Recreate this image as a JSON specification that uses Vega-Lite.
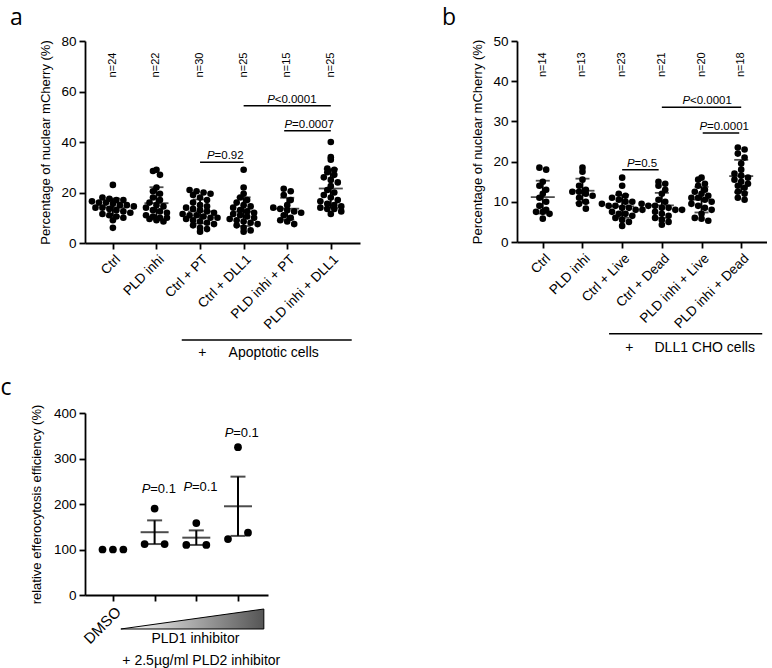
{
 "$schema": "https://vega.github.io/schema/vega-lite/v6.json",
 "padding": {"left": 0, "top": 7, "right": 0, "bottom": 0},
 "config": {
  "font": "Liberation Sans",
  "view": {"stroke": null},
  "axis": {"grid": false, "domainColor": "black", "domainWidth": 1.8, "tickColor": "black", "tickWidth": 1.8, "tickSize": 6, "labelColor": "black", "labelFontSize": 13.5, "labelPadding": 3, "labelOverlap": false, "labelBound": false, "titleFontSize": 13, "titleFontWeight": "normal", "titleColor": "black", "titlePadding": 8},
  "title": {"font": "Open Sans", "fontSize": 23, "fontWeight": "normal", "anchor": "start", "color": "black"}
 },
 "datasets": {
  "a": [
   {"i":0,"v":23},{"i":0,"v":18},{"i":0,"v":17.5},{"i":0,"v":17},{"i":0,"v":17},{"i":0,"v":16.5},{"i":0,"v":16},{"i":0,"v":16},{"i":0,"v":15.5},{"i":0,"v":15},{"i":0,"v":15},{"i":0,"v":14.5},{"i":0,"v":14},{"i":0,"v":14},{"i":0,"v":13.5},{"i":0,"v":13},{"i":0,"v":12.5},{"i":0,"v":12},{"i":0,"v":11.5},{"i":0,"v":11},{"i":0,"v":10.5},{"i":0,"v":10},{"i":0,"v":9},{"i":0,"v":6},
   {"i":1,"v":29},{"i":1,"v":28.5},{"i":1,"v":27},{"i":1,"v":22},{"i":1,"v":20.5},{"i":1,"v":19.5},{"i":1,"v":18},{"i":1,"v":17},{"i":1,"v":16},{"i":1,"v":15},{"i":1,"v":14.5},{"i":1,"v":14},{"i":1,"v":13},{"i":1,"v":12.5},{"i":1,"v":12},{"i":1,"v":11},{"i":1,"v":10.5},{"i":1,"v":10},{"i":1,"v":10},{"i":1,"v":9.5},{"i":1,"v":9},{"i":1,"v":8.5},
   {"i":2,"v":21},{"i":2,"v":20.5},{"i":2,"v":20},{"i":2,"v":19.5},{"i":2,"v":19},{"i":2,"v":18},{"i":2,"v":17},{"i":2,"v":16},{"i":2,"v":15},{"i":2,"v":14.5},{"i":2,"v":14},{"i":2,"v":13.5},{"i":2,"v":13},{"i":2,"v":12.5},{"i":2,"v":12},{"i":2,"v":11.5},{"i":2,"v":11},{"i":2,"v":11},{"i":2,"v":10.5},{"i":2,"v":10},{"i":2,"v":10},{"i":2,"v":9.5},{"i":2,"v":9},{"i":2,"v":8.5},{"i":2,"v":8},{"i":2,"v":7.5},{"i":2,"v":7},{"i":2,"v":6},{"i":2,"v":5.5},{"i":2,"v":4.5},
   {"i":3,"v":29},{"i":3,"v":22},{"i":3,"v":19.5},{"i":3,"v":18},{"i":3,"v":17},{"i":3,"v":16},{"i":3,"v":15},{"i":3,"v":14.5},{"i":3,"v":14},{"i":3,"v":13},{"i":3,"v":12.5},{"i":3,"v":12},{"i":3,"v":11.5},{"i":3,"v":11},{"i":3,"v":10.5},{"i":3,"v":10},{"i":3,"v":9.5},{"i":3,"v":9},{"i":3,"v":8.5},{"i":3,"v":8},{"i":3,"v":7.5},{"i":3,"v":7},{"i":3,"v":6},{"i":3,"v":5},{"i":3,"v":4.5},
   {"i":4,"v":21.5},{"i":4,"v":20.5},{"i":4,"v":19},{"i":4,"v":17},{"i":4,"v":15},{"i":4,"v":14},{"i":4,"v":13.5},{"i":4,"v":13},{"i":4,"v":12.5},{"i":4,"v":12},{"i":4,"v":11},{"i":4,"v":10},{"i":4,"v":9},{"i":4,"v":8.5},{"i":4,"v":7.5},
   {"i":5,"v":40},{"i":5,"v":34},{"i":5,"v":33},{"i":5,"v":29.5},{"i":5,"v":29},{"i":5,"v":28},{"i":5,"v":27},{"i":5,"v":26},{"i":5,"v":25},{"i":5,"v":24},{"i":5,"v":22.5},{"i":5,"v":21},{"i":5,"v":20},{"i":5,"v":19},{"i":5,"v":18},{"i":5,"v":17},{"i":5,"v":16.5},{"i":5,"v":15.5},{"i":5,"v":15},{"i":5,"v":14.5},{"i":5,"v":14},{"i":5,"v":13.5},{"i":5,"v":13.5},{"i":5,"v":12.5},{"i":5,"v":11.5}
  ],
  "b": [
   {"i":0,"v":18.5},{"i":0,"v":18},{"i":0,"v":15},{"i":0,"v":14},{"i":0,"v":13},{"i":0,"v":12},{"i":0,"v":11},{"i":0,"v":10},{"i":0,"v":9},{"i":0,"v":8},{"i":0,"v":7.5},{"i":0,"v":7.5},{"i":0,"v":7},{"i":0,"v":5.8},
   {"i":1,"v":18.5},{"i":1,"v":17.5},{"i":1,"v":15.5},{"i":1,"v":14},{"i":1,"v":13},{"i":1,"v":12.5},{"i":1,"v":12.5},{"i":1,"v":12},{"i":1,"v":11.5},{"i":1,"v":11},{"i":1,"v":10},{"i":1,"v":9.5},{"i":1,"v":8.3},
   {"i":2,"v":16},{"i":2,"v":14},{"i":2,"v":12},{"i":2,"v":11.5},{"i":2,"v":11},{"i":2,"v":10.5},{"i":2,"v":10},{"i":2,"v":10},{"i":2,"v":9.5},{"i":2,"v":9},{"i":2,"v":9},{"i":2,"v":8.5},{"i":2,"v":8.5},{"i":2,"v":8},{"i":2,"v":8},{"i":2,"v":7.5},{"i":2,"v":7},{"i":2,"v":7},{"i":2,"v":6.5},{"i":2,"v":6},{"i":2,"v":5.5},{"i":2,"v":5},{"i":2,"v":4},
   {"i":3,"v":15},{"i":3,"v":14.5},{"i":3,"v":14},{"i":3,"v":13},{"i":3,"v":12},{"i":3,"v":10.5},{"i":3,"v":10},{"i":3,"v":9.5},{"i":3,"v":9},{"i":3,"v":9},{"i":3,"v":8.5},{"i":3,"v":8.5},{"i":3,"v":8},{"i":3,"v":8},{"i":3,"v":7.5},{"i":3,"v":7},{"i":3,"v":6.5},{"i":3,"v":6},{"i":3,"v":5.5},{"i":3,"v":5},{"i":3,"v":4.3},
   {"i":4,"v":16},{"i":4,"v":15.5},{"i":4,"v":14.5},{"i":4,"v":14},{"i":4,"v":13},{"i":4,"v":12.5},{"i":4,"v":12},{"i":4,"v":11.5},{"i":4,"v":11},{"i":4,"v":11},{"i":4,"v":10.5},{"i":4,"v":10},{"i":4,"v":9.5},{"i":4,"v":9},{"i":4,"v":8.5},{"i":4,"v":8},{"i":4,"v":7},{"i":4,"v":6},{"i":4,"v":5.8},{"i":4,"v":5.3},
   {"i":5,"v":23.5},{"i":5,"v":23},{"i":5,"v":22},{"i":5,"v":21},{"i":5,"v":19.5},{"i":5,"v":18},{"i":5,"v":17},{"i":5,"v":16.5},{"i":5,"v":16},{"i":5,"v":15.5},{"i":5,"v":15},{"i":5,"v":14.5},{"i":5,"v":14},{"i":5,"v":13.5},{"i":5,"v":12.5},{"i":5,"v":12},{"i":5,"v":11},{"i":5,"v":10.5}
  ],
  "c": [
   {"i":0,"v":100},{"i":0,"v":100},{"i":0,"v":100},
   {"i":1,"v":190},{"i":1,"v":112},{"i":1,"v":112},
   {"i":2,"v":158},{"i":2,"v":110},{"i":2,"v":110},
   {"i":3,"v":325},{"i":3,"v":123},{"i":3,"v":137}
  ],
  "sigA": [
   {"x1":3,"x2":5,"y":54.4,"tx":3.54,"r":"<0.0001"},
   {"x1":3.93,"x2":5,"y":44.5,"tx":3.94,"r":"\u00a0=0.0007"},
   {"x1":2,"x2":3,"y":32,"tx":2.16,"r":"=0.92"}
  ],
  "sigB": [
   {"x1":3,"x2":5,"y":33.5,"tx":3.52,"r":"<0.0001"},
   {"x1":4.03,"x2":4.95,"y":27.1,"tx":3.95,"r":"\u00a0=0.0001"},
   {"x1":2,"x2":2.92,"y":18,"tx":2.12,"r":"=0.5"}
  ],
  "sigC": [
   {"tx":0.69,"y":233,"r":"=0.1"},
   {"tx":1.69,"y":237,"r":"=0.1"},
   {"tx":2.68,"y":356,"r":"=0.1"}
  ],
  "brA": [{"x1":1.58,"x2":5.48,"y":-38.4}],
  "brAt": [{"x":2.05,"y":-43.7,"t":"+"},{"x":3.69,"y":-43.7,"t":"Apoptotic cells"}],
  "brB": [{"x1":1.67,"x2":5.53,"y":-22.8}],
  "brBt": [{"x":2.18,"y":-26.4,"t":"+"},{"x":4.08,"y":-26.4,"t":"DLL1 CHO cells"}],
  "tri": [{"x":0.19,"yb":-74.7,"yt":-74.7},{"x":3.62,"yb":-74.7,"yt":-30.8}],
  "triT": [{"x":1.98,"y":-96.7,"t":"PLD1 inhibitor"},{"x":2.12,"y":-144,"t":"+ 2.5µg/ml PLD2 inhibitor"}]
 },
 "spacing": 16,
 "vconcat": [
  {
   "spacing": 81,
   "hconcat": [
    {
     "title": {"text": "a", "dx": -30, "offset": 4},
     "width": 275, "height": 202,
     "layer": [
      {
       "data": {"name": "a"},
       "transform": [
        {"calculate": "floor(datum.v / 2.4)", "as": "bin"},
        {"window": [{"op": "row_number", "as": "r"}, {"op": "count", "as": "c"}], "groupby": ["i", "bin"], "frame": [null, null]},
        {"calculate": "datum.i + (datum.r - (datum.c + 1) / 2) * 0.16", "as": "xp"}
       ],
       "mark": {"type": "circle", "size": 44, "opacity": 1, "color": "black"},
       "encoding": {
        "x": {"field": "xp", "type": "quantitative", "title": null, "scale": {"domain": [-0.64, 5.67], "nice": false, "zero": false}, "axis": {"values": [0,1,2,3,4,5], "labelAngle": -45, "labelExpr": "['Ctrl','PLD inhi','Ctrl + PT','Ctrl + DLL1','PLD inhi + PT','PLD inhi + DLL1'][datum.value]"}},
        "y": {"field": "v", "type": "quantitative", "title": "Percentage of nuclear mCherry (%)", "scale": {"domain": [0, 80], "nice": false}, "axis": {"values": [0,20,40,60,80]}}
       }
      },
      {
       "data": {"name": "a"},
       "transform": [
        {"aggregate": [{"op": "mean", "field": "v", "as": "m"}, {"op": "stdev", "field": "v", "as": "s"}], "groupby": ["i"]},
        {"calculate": "datum.m - datum.s", "as": "lo"},
        {"calculate": "datum.m + datum.s", "as": "hi"}
       ],
       "layer": [
        {"mark": {"type": "rule", "strokeWidth": 1.8, "color": "black"}, "encoding": {"x": {"field": "i", "type": "quantitative", "title": null}, "y": {"field": "lo", "type": "quantitative", "title": "Percentage of nuclear mCherry (%)"}, "y2": {"field": "hi"}}},
        {"mark": {"type": "tick", "orient": "horizontal", "size": 24, "thickness": 1.8, "color": "black"}, "encoding": {"x": {"field": "i", "type": "quantitative", "title": null}, "y": {"field": "m", "type": "quantitative", "title": "Percentage of nuclear mCherry (%)"}}},
        {"transform": [{"fold": ["lo", "hi"], "as": ["k", "yv"]}], "mark": {"type": "tick", "orient": "horizontal", "size": 14, "thickness": 1.8, "color": "black"}, "encoding": {"x": {"field": "i", "type": "quantitative", "title": null}, "y": {"field": "yv", "type": "quantitative", "title": "Percentage of nuclear mCherry (%)"}}}
       ]
      },
      {
       "data": {"name": "a"},
       "transform": [{"aggregate": [{"op": "count", "as": "n"}], "groupby": ["i"]}, {"calculate": "'n=' + datum.n", "as": "lab"}],
       "mark": {"type": "text", "angle": 270, "fontSize": 11, "align": "center", "baseline": "middle", "color": "black"},
       "encoding": {"x": {"field": "i", "type": "quantitative", "title": null}, "y": {"datum": 70.5, "type": "quantitative", "title": "Percentage of nuclear mCherry (%)"}, "text": {"field": "lab"}}
      },
      {
       "data": {"name": "sigA"},
       "layer": [
        {"mark": {"type": "rule", "strokeWidth": 1.5, "color": "black"}, "encoding": {"x": {"field": "x1", "type": "quantitative", "title": null}, "x2": {"field": "x2"}, "y": {"field": "y", "type": "quantitative", "title": "Percentage of nuclear mCherry (%)"}}},
        {"mark": {"type": "text", "text": "P", "fontStyle": "italic", "fontSize": 11.5, "align": "left", "baseline": "alphabetic", "dy": -3, "color": "black"}, "encoding": {"x": {"field": "tx", "type": "quantitative", "title": null}, "y": {"field": "y", "type": "quantitative", "title": "Percentage of nuclear mCherry (%)"}}},
        {"mark": {"type": "text", "fontSize": 11.5, "align": "left", "baseline": "alphabetic", "dy": -3, "dx": 7.5, "color": "black"}, "encoding": {"x": {"field": "tx", "type": "quantitative", "title": null}, "y": {"field": "y", "type": "quantitative", "title": "Percentage of nuclear mCherry (%)"}, "text": {"field": "r"}}}
       ]
      },
      {
       "data": {"name": "brA"},
       "mark": {"type": "rule", "strokeWidth": 1.5, "color": "black", "clip": false},
       "encoding": {"x": {"field": "x1", "type": "quantitative", "title": null}, "x2": {"field": "x2"}, "y": {"field": "y", "type": "quantitative", "title": "Percentage of nuclear mCherry (%)"}}
      },
      {
       "data": {"name": "brAt"},
       "mark": {"type": "text", "fontSize": 14, "align": "center", "baseline": "middle", "color": "black", "clip": false},
       "encoding": {"x": {"field": "x", "type": "quantitative", "title": null}, "y": {"field": "y", "type": "quantitative", "title": "Percentage of nuclear mCherry (%)"}, "text": {"field": "t"}}
      }
     ]
    },
    {
     "title": {"text": "b", "dx": -30, "offset": 4},
     "width": 250, "height": 201,
     "layer": [
      {
       "data": {"name": "b"},
       "transform": [
        {"calculate": "floor(datum.v / 1.6)", "as": "bin"},
        {"window": [{"op": "row_number", "as": "r"}, {"op": "count", "as": "c"}], "groupby": ["i", "bin"], "frame": [null, null]},
        {"calculate": "datum.i + (datum.r - (datum.c + 1) / 2) * 0.17", "as": "xp"}
       ],
       "mark": {"type": "circle", "size": 44, "opacity": 1, "color": "black"},
       "encoding": {
        "x": {"field": "xp", "type": "quantitative", "title": null, "scale": {"domain": [-0.65, 5.65], "nice": false, "zero": false}, "axis": {"values": [0,1,2,3,4,5], "labelAngle": -45, "labelExpr": "['Ctrl','PLD inhi','Ctrl + Live','Ctrl + Dead','PLD inhi + Live','PLD inhi + Dead'][datum.value]"}},
        "y": {"field": "v", "type": "quantitative", "title": "Percentage of nuclear mCherry (%)", "scale": {"domain": [0, 50], "nice": false}, "axis": {"values": [0,10,20,30,40,50]}}
       }
      },
      {
       "data": {"name": "b"},
       "transform": [
        {"aggregate": [{"op": "mean", "field": "v", "as": "m"}, {"op": "stdev", "field": "v", "as": "s"}], "groupby": ["i"]},
        {"calculate": "datum.m - datum.s", "as": "lo"},
        {"calculate": "datum.m + datum.s", "as": "hi"}
       ],
       "layer": [
        {"mark": {"type": "rule", "strokeWidth": 1.8, "color": "black"}, "encoding": {"x": {"field": "i", "type": "quantitative", "title": null}, "y": {"field": "lo", "type": "quantitative", "title": "Percentage of nuclear mCherry (%)"}, "y2": {"field": "hi"}}},
        {"mark": {"type": "tick", "orient": "horizontal", "size": 24, "thickness": 1.8, "color": "black"}, "encoding": {"x": {"field": "i", "type": "quantitative", "title": null}, "y": {"field": "m", "type": "quantitative", "title": "Percentage of nuclear mCherry (%)"}}},
        {"transform": [{"fold": ["lo", "hi"], "as": ["k", "yv"]}], "mark": {"type": "tick", "orient": "horizontal", "size": 14, "thickness": 1.8, "color": "black"}, "encoding": {"x": {"field": "i", "type": "quantitative", "title": null}, "y": {"field": "yv", "type": "quantitative", "title": "Percentage of nuclear mCherry (%)"}}}
       ]
      },
      {
       "data": {"name": "b"},
       "transform": [{"aggregate": [{"op": "count", "as": "n"}], "groupby": ["i"]}, {"calculate": "'n=' + datum.n", "as": "lab"}],
       "mark": {"type": "text", "angle": 270, "fontSize": 11, "align": "center", "baseline": "middle", "color": "black"},
       "encoding": {"x": {"field": "i", "type": "quantitative", "title": null}, "y": {"datum": 44.1, "type": "quantitative", "title": "Percentage of nuclear mCherry (%)"}, "text": {"field": "lab"}}
      },
      {
       "data": {"name": "sigB"},
       "layer": [
        {"mark": {"type": "rule", "strokeWidth": 1.5, "color": "black"}, "encoding": {"x": {"field": "x1", "type": "quantitative", "title": null}, "x2": {"field": "x2"}, "y": {"field": "y", "type": "quantitative", "title": "Percentage of nuclear mCherry (%)"}}},
        {"mark": {"type": "text", "text": "P", "fontStyle": "italic", "fontSize": 11.5, "align": "left", "baseline": "alphabetic", "dy": -3, "color": "black"}, "encoding": {"x": {"field": "tx", "type": "quantitative", "title": null}, "y": {"field": "y", "type": "quantitative", "title": "Percentage of nuclear mCherry (%)"}}},
        {"mark": {"type": "text", "fontSize": 11.5, "align": "left", "baseline": "alphabetic", "dy": -3, "dx": 7.5, "color": "black"}, "encoding": {"x": {"field": "tx", "type": "quantitative", "title": null}, "y": {"field": "y", "type": "quantitative", "title": "Percentage of nuclear mCherry (%)"}, "text": {"field": "r"}}}
       ]
      },
      {
       "data": {"name": "brB"},
       "mark": {"type": "rule", "strokeWidth": 1.5, "color": "black", "clip": false},
       "encoding": {"x": {"field": "x1", "type": "quantitative", "title": null}, "x2": {"field": "x2"}, "y": {"field": "y", "type": "quantitative", "title": "Percentage of nuclear mCherry (%)"}}
      },
      {
       "data": {"name": "brBt"},
       "mark": {"type": "text", "fontSize": 14, "align": "center", "baseline": "middle", "color": "black", "clip": false},
       "encoding": {"x": {"field": "x", "type": "quantitative", "title": null}, "y": {"field": "y", "type": "quantitative", "title": "Percentage of nuclear mCherry (%)"}, "text": {"field": "t"}}
      }
     ]
    }
   ]
  },
  {
   "title": {"text": "c", "dx": -30, "offset": 4},
   "width": 183, "height": 182,
   "layer": [
    {
     "data": {"name": "c"},
     "transform": [
      {"calculate": "floor(datum.v / 20)", "as": "bin"},
      {"window": [{"op": "row_number", "as": "r"}, {"op": "count", "as": "c"}], "groupby": ["i", "bin"], "frame": [null, null]},
      {"calculate": "datum.i + (datum.r - (datum.c + 1) / 2) * (datum.c == 2 ? 0.48 : 0.25)", "as": "xp"}
     ],
     "mark": {"type": "circle", "size": 60, "opacity": 1, "color": "black"},
     "encoding": {
      "x": {"field": "xp", "type": "quantitative", "title": null, "scale": {"domain": [-0.67, 3.72], "nice": false, "zero": false}, "axis": {"values": [0,1,2,3], "labelAngle": -45, "labelFontSize": 15, "labelExpr": "datum.value == 0 ? 'DMSO' : ''"}},
      "y": {"field": "v", "type": "quantitative", "title": "relative efferocytosis efficiency (%)", "scale": {"domain": [0, 400], "nice": false}, "axis": {"values": [0,100,200,300,400], "titlePadding": 10}}
     }
    },
    {
     "data": {"name": "c"},
     "transform": [
      {"aggregate": [{"op": "mean", "field": "v", "as": "m"}, {"op": "stderr", "field": "v", "as": "s"}], "groupby": ["i"]},
      {"filter": "datum.s > 0"},
      {"calculate": "datum.m - datum.s", "as": "lo"},
      {"calculate": "datum.m + datum.s", "as": "hi"}
     ],
     "layer": [
      {"mark": {"type": "rule", "strokeWidth": 2, "color": "black"}, "encoding": {"x": {"field": "i", "type": "quantitative", "title": null}, "y": {"field": "lo", "type": "quantitative", "title": "relative efferocytosis efficiency (%)"}, "y2": {"field": "hi"}}},
      {"mark": {"type": "tick", "orient": "horizontal", "size": 28, "thickness": 2, "color": "black"}, "encoding": {"x": {"field": "i", "type": "quantitative", "title": null}, "y": {"field": "m", "type": "quantitative", "title": "relative efferocytosis efficiency (%)"}}},
      {"transform": [{"fold": ["lo", "hi"], "as": ["k", "yv"]}], "mark": {"type": "tick", "orient": "horizontal", "size": 15, "thickness": 2, "color": "black"}, "encoding": {"x": {"field": "i", "type": "quantitative", "title": null}, "y": {"field": "yv", "type": "quantitative", "title": "relative efferocytosis efficiency (%)"}}}
     ]
    },
    {
     "data": {"name": "sigC"},
     "layer": [
      {"mark": {"type": "text", "text": "P", "fontStyle": "italic", "fontSize": 13, "align": "left", "baseline": "middle", "color": "black"}, "encoding": {"x": {"field": "tx", "type": "quantitative", "title": null}, "y": {"field": "y", "type": "quantitative", "title": "relative efferocytosis efficiency (%)"}}},
      {"mark": {"type": "text", "fontSize": 13, "align": "left", "baseline": "middle", "dx": 8.5, "color": "black"}, "encoding": {"x": {"field": "tx", "type": "quantitative", "title": null}, "y": {"field": "y", "type": "quantitative", "title": "relative efferocytosis efficiency (%)"}, "text": {"field": "r"}}}
     ]
    },
    {
     "data": {"name": "tri"},
     "mark": {"type": "area", "clip": false, "stroke": "black", "strokeWidth": 1, "color": {"gradient": "linear", "x1": 0, "x2": 1, "y1": 0, "y2": 0, "stops": [{"offset": 0, "color": "#ffffff"}, {"offset": 1, "color": "#555555"}]}},
     "encoding": {"x": {"field": "x", "type": "quantitative", "title": null}, "y": {"field": "yt", "type": "quantitative", "title": "relative efferocytosis efficiency (%)"}, "y2": {"field": "yb"}}
    },
    {
     "data": {"name": "triT"},
     "mark": {"type": "text", "fontSize": 14, "align": "center", "baseline": "middle", "color": "black", "clip": false},
     "encoding": {"x": {"field": "x", "type": "quantitative", "title": null}, "y": {"field": "y", "type": "quantitative", "title": "relative efferocytosis efficiency (%)"}, "text": {"field": "t"}}
    }
   ]
  }
 ]
}
